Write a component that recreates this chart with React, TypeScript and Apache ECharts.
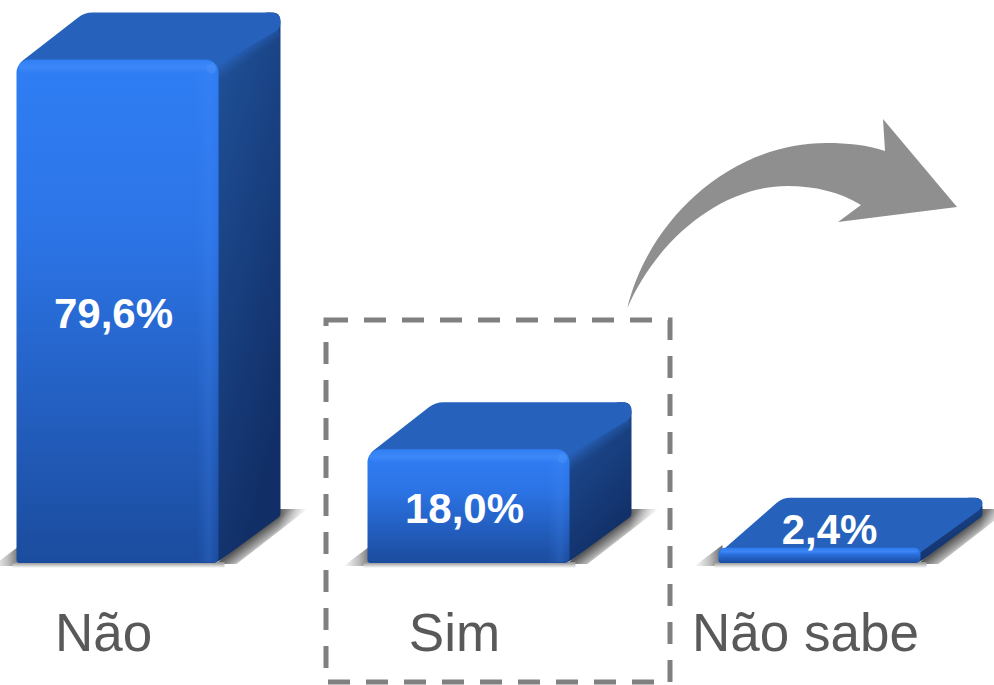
import React, { useEffect, useRef } from "react";
import * as echarts from "echarts";

const categories = ["Não", "Sim", "Não sabe"];
const shares = [79.6, 18.0, 2.4];

const FONT = "'Liberation Sans', Arial, sans-serif";
const FRONT_W = 202;
const FRONT_SHIFT = 87;
const DEPTH_X = 62;
const DEPTH_Y = 47;

const ARROW_D =
  "M627.3,308 C648,222 728,143 827,143 C847,143 868,145 885,151 L883,119 L957,207 L838,222 L861,205 C840,192 815,186 787,186 C722,186 658,238 627.3,308 Z";

const stopsOf = (stops: [number, string][]) => stops.map(([offset, color]) => ({ offset, color }));
const lin = (x1: number, y1: number, x2: number, y2: number, stops: [number, string][]) =>
  new echarts.graphic.LinearGradient(x1, y1, x2, y2, stopsOf(stops));
const linAbs = (x1: number, y1: number, x2: number, y2: number, stops: [number, string][]) =>
  new echarts.graphic.LinearGradient(x1, y1, x2, y2, stopsOf(stops), true);

function roundedPoly(pts: number[][], radii: number[]) {
  const n = pts.length;
  let d = "";
  for (let i = 0; i < n; i++) {
    const p = pts[i];
    const a = pts[(i + n - 1) % n];
    const b = pts[(i + 1) % n];
    const r = radii[i];
    const la = Math.hypot(a[0] - p[0], a[1] - p[1]) || 1;
    const lb = Math.hypot(b[0] - p[0], b[1] - p[1]) || 1;
    const ra = Math.min(r, la / 2);
    const rb = Math.min(r, lb / 2);
    const s = [p[0] + ((a[0] - p[0]) / la) * ra, p[1] + ((a[1] - p[1]) / la) * ra];
    const e = [p[0] + ((b[0] - p[0]) / lb) * rb, p[1] + ((b[1] - p[1]) / lb) * rb];
    d += `${i === 0 ? "M" : "L"}${s[0]},${s[1]} Q${p[0]},${p[1]} ${e[0]},${e[1]} `;
  }
  return d + "Z";
}

function renderBar(_params: any, api: any) {
  const idx = api.value(0);
  const value = api.value(1);
  const [cx, top] = api.coord([idx, value]);
  const base = api.coord([idx, 0])[1];
  const x0 = cx - FRONT_SHIFT;
  const x1 = x0 + FRONT_W;
  const h = base - top;
  const thin = h < 30;
  const sx = x1 + DEPTH_X;
  const backTop = top - DEPTH_Y - (thin ? 3 : 0);
  const sideBase = base - DEPTH_Y;
  const strip = Math.min(h * 0.35, 13);
  const text = value.toFixed(1).replace(".", ",") + "%";
  const midX = x1 + DEPTH_X / 2;
  const midY = base - DEPTH_Y / 2;

  const children: any[] = [
    // cast shadow: fades away from the side face's lower edge
    {
      type: "polygon",
      shape: { points: [[x1 - 3, base + 1], [sx - 3, sideBase - 1], [sx - 3, sideBase - 7], [sx + 27, sideBase - 7], [x1 + 18, base + 1]] },
      style: {
        fill: linAbs(midX, midY, midX + 10, midY + 13, [[0, "#585858"], [0.55, "#a8a8a8"], [1, "#ffffff"]]),
      },
    },
    // the shadow's tip fades out to the right
    {
      type: "rect",
      shape: { x: sx - 2, y: sideBase - 9, width: 30, height: 30 },
      style: { fill: lin(0, 0, 1, 0, [[0, "rgba(255,255,255,0)"], [1, "#ffffff"]]) },
    },
    // cast shadow: left of the front face
    {
      type: "polygon",
      shape: { points: [[x0 - 24, base + 3], [x0 + 4, base - 18], [x0 + 4, base + 3]] },
      style: { fill: lin(0, 0, 1, 0, [[0, "#ffffff"], [0.55, "#bdbdbd"], [1, "#666666"]]) },
    },
    // thin shadow under the front face
    {
      type: "rect",
      shape: { x: x0 - 4, y: base - 1, width: FRONT_W + 10, height: 6 },
      style: { fill: lin(0, 0, 0, 1, [[0, "#8a8a8a"], [1, "#ffffff"]]) },
    },
    // side face
    {
      type: "path",
      shape: {
        pathData: roundedPoly(
          [[x1 - 12, top + 4], [x1 + DEPTH_X - 14, backTop], [sx, backTop], [sx, sideBase], [x1 - 2, base], [x1 - 12, base]],
          [0, 0, 10, 3, 6, 0]
        ),
      },
      style: { fill: lin(0, 0, 0.5, 1, [[0, "#21559F"], [1, "#112E66"]]) },
    },
    // soft ridge between top and side faces
    {
      type: "polygon",
      shape: { points: [[x1 - 8, top + 4], [sx - 8, backTop + 4], [sx, backTop + 24], [x1 + 3, top + 26]] },
      style: {
        fill: linAbs(midX - 2, top - DEPTH_Y / 2 + 5, midX + 8, top - DEPTH_Y / 2 + 19, [[0, "#2A67C6"], [1, "rgba(38,90,170,0)"]]),
        opacity: thin ? 0 : 1,
      },
    },
    // top face
    {
      type: "path",
      shape: {
        pathData: roundedPoly(
          [[x0, top + 6], [x0 + DEPTH_X + (thin ? 2 : 6), backTop], [sx, backTop], [sx, backTop + (thin ? 10 : 16)], [x1 - 6, top + 9]],
          [8, 8, 10, 6, 0]
        ),
      },
      style: { fill: "#2661BB" },
    },
    // front face
    {
      type: "rect",
      shape: { x: x0, y: top, width: FRONT_W, height: h, r: [thin ? 6 : 13, thin ? 6 : 13, 5, 3] },
      style: { fill: lin(0, 0, 0, 1, [[0, "#2F7EF4"], [0.35, "#2C74E6"], [1, "#1B4C9E"]]) },
    },
    // bright rims of the front face
    {
      type: "rect",
      shape: { x: x0 + 2, y: top + 1, width: FRONT_W - 5, height: strip, r: thin ? 4 : 9 },
      style: { fill: lin(0, 0, 0, 1, [[0, "rgba(66,140,250,0.15)"], [0.5, "rgba(66,140,250,0.7)"], [1, "rgba(66,140,250,0)"]]) },
    },
    {
      type: "rect",
      shape: { x: x1 - 22, y: top + 5, width: 21, height: h - 6 },
      style: {
        fill: lin(0, 0, 1, 0, [[0, "rgba(70,140,250,0)"], [0.6, "rgba(70,140,250,0.2)"], [1, "rgba(70,140,250,0)"]]),
        opacity: thin ? 0 : 1,
      },
    },
    {
      type: "circle",
      shape: { cx: x1 - 7, cy: top + 9, r: 5 },
      style: { fill: "#4690F8", opacity: thin ? 0 : 0.6 },
    },
    // value label
    {
      type: "text",
      style: {
        text,
        x: thin ? cx + 24 : cx + 10,
        y: thin ? top - 18 : top + h / 2 + 2,
        fill: "#ffffff",
        font: `bold 42px ${FONT}`,
        align: "center",
        verticalAlign: "middle",
      },
    },
  ];
  return { type: "group", children };
}

export default function App() {
  const ref = useRef<HTMLDivElement>(null);
  useEffect(() => {
    document.body.style.margin = "0";
    document.body.style.background = "#ffffff";
    echarts.graphic.registerShape("bendArrow", echarts.graphic.extendPath(ARROW_D, {}));
    const chart = echarts.init(ref.current!, null, { renderer: "svg" });
    chart.setOption({
      animation: false,
      backgroundColor: "#ffffff",
      grid: { left: -72, top: 0, width: 1053, height: 563, containLabel: false, outerBoundsMode: "none" },
      xAxis: {
        type: "category",
        data: categories,
        axisLine: { show: false },
        axisTick: { show: false },
        axisLabel: { color: "#595959", fontFamily: FONT, fontSize: 53, margin: 43, interval: 0 },
      },
      yAxis: { type: "value", min: 0, max: 89, show: false, splitLine: { show: false } },
      series: [
        {
          type: "custom",
          renderItem: renderBar,
          clip: false,
          silent: true,
          encode: { x: 0, y: 1 },
          data: shares.map((v, i) => [i, v]),
        },
      ],
      graphic: [
        { type: "bendArrow", x: 0, y: 0, silent: true, style: { fill: "#8F8F8F" } },
        {
          type: "rect",
          silent: true,
          shape: { x: 326, y: 320, width: 344, height: 362 },
          style: { fill: "transparent", stroke: "#808080", lineWidth: 5, lineDash: [22, 16] },
        },
      ],
    });
    return () => chart.dispose();
  }, []);
  return <div ref={ref} style={{ position: "absolute", left: 0, top: 0, width: 994, height: 685 }} />;
}
